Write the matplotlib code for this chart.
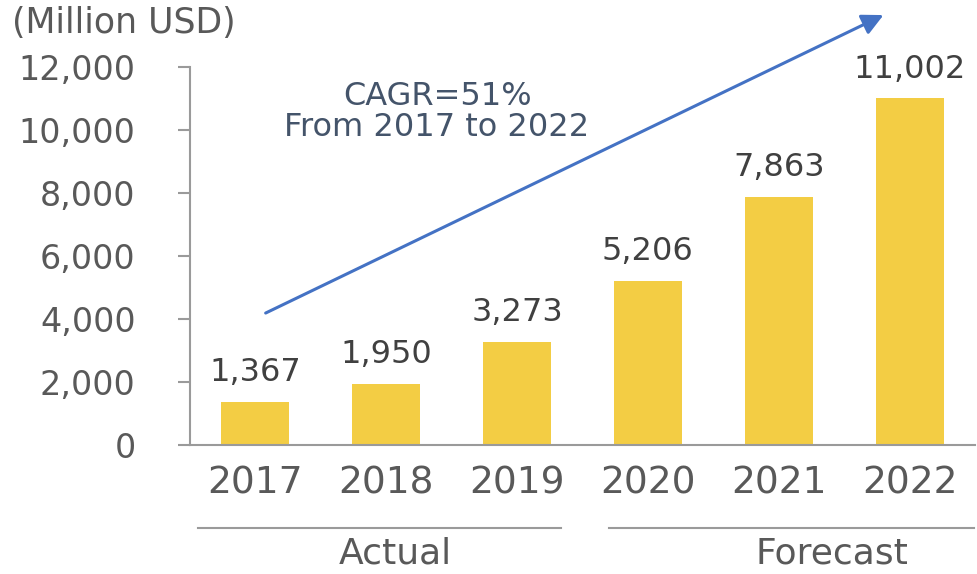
import matplotlib
matplotlib.use("Agg")
import matplotlib.pyplot as plt
from matplotlib.ticker import FuncFormatter

years = ["2017", "2018", "2019", "2020", "2021", "2022"]
revenue = [1367, 1950, 3273, 5206, 7863, 11002]
y_ticks = [0, 2000, 4000, 6000, 8000, 10000, 12000]
unit_label = "(Million USD)"
cagr_text = "CAGR=51%\nFrom 2017 to 2022"
# period label, line start/end (bar index units), label centre
periods = [("Actual", -0.44, 2.34, 1.07), ("Forecast", 2.70, 5.49, 4.41)]

BAR = "#F3CD44"
GRID = "#9A9A9A"
TXT = "#595959"
VAL = "#404040"
BLUE = "#4472C4"

plt.rcParams["font.family"] = ["DejaVu Sans"]

fig = plt.figure(figsize=(9.78, 5.74), dpi=100)
ax = fig.add_axes([0.194, 0.2247, 0.803, 0.6585])

x = range(len(years))
bars = ax.bar(x, revenue, width=0.52, color=BAR, zorder=2)
for b, v in zip(bars, revenue):
    ax.annotate(f"{v:,}", (b.get_x() + b.get_width() / 2, v),
                xytext=(0, 10), textcoords="offset points",
                ha="center", va="bottom", fontsize=23, color=VAL)

ax.set_xlim(-0.5, 5.5)
ax.set_ylim(0, 12000)
ax.set_yticks(y_ticks)
ax.yaxis.set_major_formatter(FuncFormatter(lambda v, p: f"{int(v):,}"))
ax.set_xticks(list(x))
ax.set_xticklabels(years)
ax.tick_params(axis="y", length=9, width=1.5, color=GRID, pad=30,
               labelsize=24, labelcolor=TXT)
ax.tick_params(axis="x", length=0, pad=15, labelsize=27, labelcolor=TXT)
for side in ("top", "right"):
    ax.spines[side].set_visible(False)
for side in ("left", "bottom"):
    ax.spines[side].set_color(GRID)
    ax.spines[side].set_linewidth(1.5)

# growth arrow and CAGR note
ax.annotate("", xy=(4.80, 13650), xytext=(0.08, 4190),
            arrowprops=dict(arrowstyle="-|>", color=BLUE, lw=2.2,
                            mutation_scale=32, shrinkA=0, shrinkB=0),
            annotation_clip=False)
ax.text(1.39, 10580, cagr_text, ha="center", va="center", fontsize=23,
        color="#44546A", linespacing=0.98)

# actual / forecast brackets under the year labels
tr = ax.get_xaxis_transform()
for name, x0, x1, xc in periods:
    ax.plot([x0, x1], [-0.22, -0.22], transform=tr, color=GRID, lw=1.5,
            clip_on=False)
    ax.text(xc, -0.287, name, transform=tr, ha="center", va="center",
            fontsize=26, color=TXT)

fig.text(0.012, 0.960, unit_label, ha="left", va="center", fontsize=25,
         color=TXT)

fig.savefig("out.png", dpi=100)
